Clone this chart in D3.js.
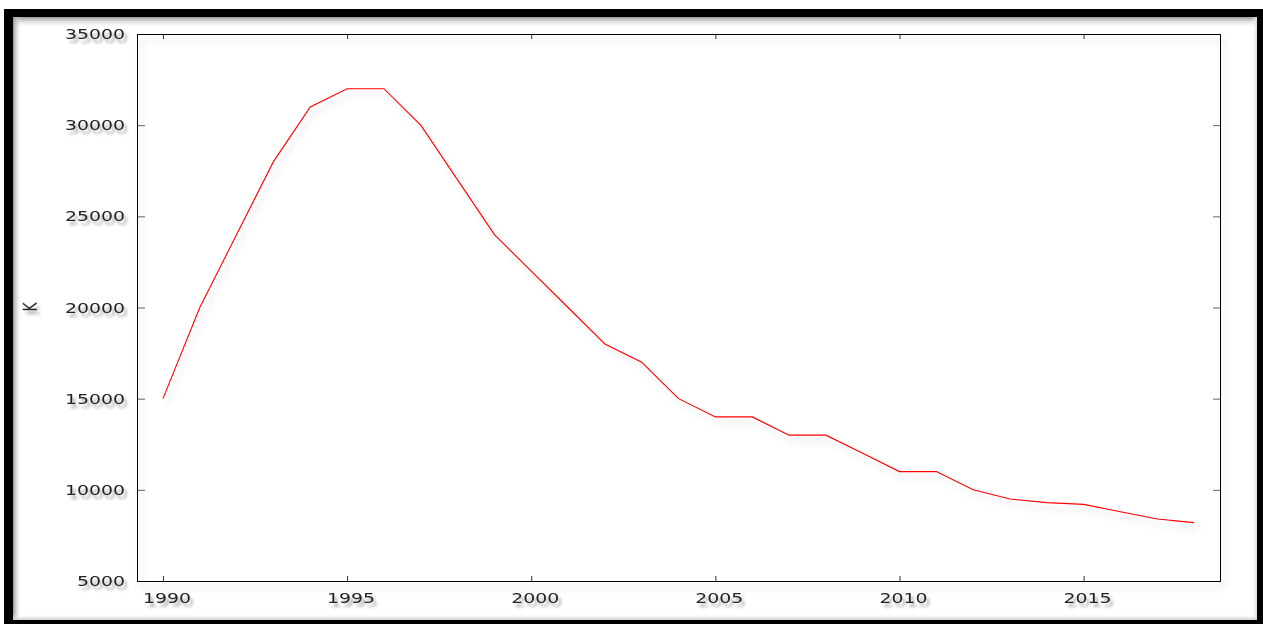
<!DOCTYPE html>
<html>
<head>
<meta charset="utf-8">
<script src="https://cdn.jsdelivr.net/npm/d3@7"></script>
<style>
  body { margin: 0; background: #fff; }
  text { font-family: "DejaVu Sans", sans-serif; fill: #222; }
</style>
</head>
<body>
<div class="chart"></div>
<script>
var years = [1990, 1991, 1992, 1993, 1994, 1995, 1996, 1997, 1998, 1999,
             2000, 2001, 2002, 2003, 2004, 2005, 2006, 2007, 2008, 2009,
             2010, 2011, 2012, 2013, 2014, 2015, 2016, 2017, 2018];
var values = [15000, 20000, 24000, 28000, 31000, 32000, 32000, 30000, 27000, 24000,
              22000, 20000, 18000, 17000, 15000, 14000, 14000, 13000, 13000, 12000,
              11000, 11000, 10000, 9500, 9300, 9200, 8800, 8400, 8200];
var xTicks = [1990, 1995, 2000, 2005, 2010, 2015];
var yTicks = [5000, 10000, 15000, 20000, 25000, 30000, 35000];
var yLabel = "K";

var W = 1263, H = 624;
var pLeft = 137, pTop = 34, pRight = 1221, pBottom = 581; // plot frame
var stretch = 1.35; // glyphs in the picture are drawn wider than tall
var digitW = 12;    // width of one digit in the tick labels

var svg = d3.select(".chart").append("svg")
    .attr("width", W).attr("height", H);

var defs = svg.append("defs");
function shadow(id, blur, dx, dy, alpha) {
  var f = defs.append("filter").attr("id", id)
      .attr("x", "-20%").attr("y", "-40%").attr("width", "160%").attr("height", "200%");
  f.append("feGaussianBlur").attr("in", "SourceAlpha").attr("stdDeviation", blur).attr("result", "b");
  f.append("feOffset").attr("in", "b").attr("dx", dx).attr("dy", dy).attr("result", "o");
  f.append("feComponentTransfer").attr("in", "o").attr("result", "s")
      .append("feFuncA").attr("type", "linear").attr("slope", alpha);
  var m = f.append("feMerge");
  m.append("feMergeNode").attr("in", "s");
  m.append("feMergeNode").attr("in", "SourceGraphic");
}
shadow("shadow", 1.6, 3, 4, 0.35);
shadow("lineShadow", 3, 4, 6, 0.2);

function grad(id, x1, y1, x2, y2, c) { // grey inner shadow along the black frame
  var g = defs.append("linearGradient").attr("id", id)
      .attr("x1", x1).attr("y1", y1).attr("x2", x2).attr("y2", y2);
  g.append("stop").attr("offset", 0).attr("stop-color", c);
  g.append("stop").attr("offset", 1).attr("stop-color", "#fff").attr("stop-opacity", 0);
}
grad("gTop", 0, 0, 0, 1, "#999");
grad("gLeft", 0, 0, 1, 0, "#999");
grad("gRight", 1, 0, 0, 0, "#ddd");
grad("gBottom", 0, 1, 0, 0, "#ccc");

// outer frame
svg.append("rect").attr("x", 13).attr("y", 17).attr("width", 1244).attr("height", 11).attr("fill", "url(#gTop)");
svg.append("rect").attr("x", 13).attr("y", 17).attr("width", 9).attr("height", 603).attr("fill", "url(#gLeft)");
svg.append("rect").attr("x", 1251).attr("y", 17).attr("width", 6).attr("height", 603).attr("fill", "url(#gRight)");
svg.append("rect").attr("x", 13).attr("y", 614).attr("width", 1244).attr("height", 6).attr("fill", "url(#gBottom)");
svg.append("rect").attr("x", 4).attr("y", 9).attr("width", 9).attr("height", 615).attr("fill", "#000");
svg.append("rect").attr("x", 4).attr("y", 9).attr("width", 1259).attr("height", 8).attr("fill", "#000");
svg.append("rect").attr("x", 1257).attr("y", 9).attr("width", 6).attr("height", 615).attr("fill", "#000");
svg.append("rect").attr("x", 4).attr("y", 620).attr("width", 1259).attr("height", 4).attr("fill", "#000");

var x = d3.scaleLinear().domain([1989.295, 2018.73]).range([pLeft, pRight]);
var y = d3.scaleLinear().domain([5000, 35000]).range([pBottom, pTop]);

// ticks (inward, both sides)
function ticks(axis, tx, ty, col) {
  var g = svg.append("g").attr("transform", `translate(${tx},${ty})`).call(axis);
  g.select(".domain").remove();
  g.selectAll("text").remove();
  g.selectAll("line").attr("stroke", col).attr("stroke-width", 1);
}
ticks(d3.axisBottom(x).tickValues(xTicks).tickSize(-5), 0, pBottom, "#333");
ticks(d3.axisTop(x).tickValues(xTicks).tickSize(-5), 0, pTop, "#333");
ticks(d3.axisLeft(y).tickValues(yTicks).tickSize(-8), pLeft, 0, "#666");
ticks(d3.axisRight(y).tickValues(yTicks).tickSize(-8), pRight, 0, "#666");

svg.append("rect").attr("x", pLeft + 0.5).attr("y", pTop + 0.5)
    .attr("width", pRight - pLeft - 1).attr("height", pBottom - pTop)
    .attr("fill", "none").attr("stroke", "#000").attr("stroke-width", 1)
    .attr("filter", "url(#lineShadow)");

// labels
var labels = svg.append("g").attr("filter", "url(#shadow)").style("font-size", "14px");
labels.selectAll(".yl").data(yTicks).enter().append("text")
    .attr("x", 125).attr("y", d => y(d) + 5)
    .attr("text-anchor", "end")
    .attr("textLength", d => String(d).length * digitW).attr("lengthAdjust", "spacingAndGlyphs")
    .text(d => d);
labels.selectAll(".xl").data(xTicks).enter().append("text")
    .attr("x", d => x(d) + 4).attr("y", 603)
    .attr("text-anchor", "middle")
    .attr("textLength", d => String(d).length * digitW).attr("lengthAdjust", "spacingAndGlyphs")
    .text(d => d);
labels.append("text")
    .attr("transform", `translate(37,307) scale(${stretch},1) rotate(-90)`)
    .attr("text-anchor", "middle")
    .text(yLabel);

// series
var line = d3.line().x((d, i) => x(years[i])).y(d => y(d));
svg.append("path").datum(values)
    .attr("d", line)
    .attr("fill", "none")
    .attr("stroke", "#ff0000")
    .attr("stroke-width", 1.1)
    .attr("filter", "url(#lineShadow)");
</script>
</body>
</html>
